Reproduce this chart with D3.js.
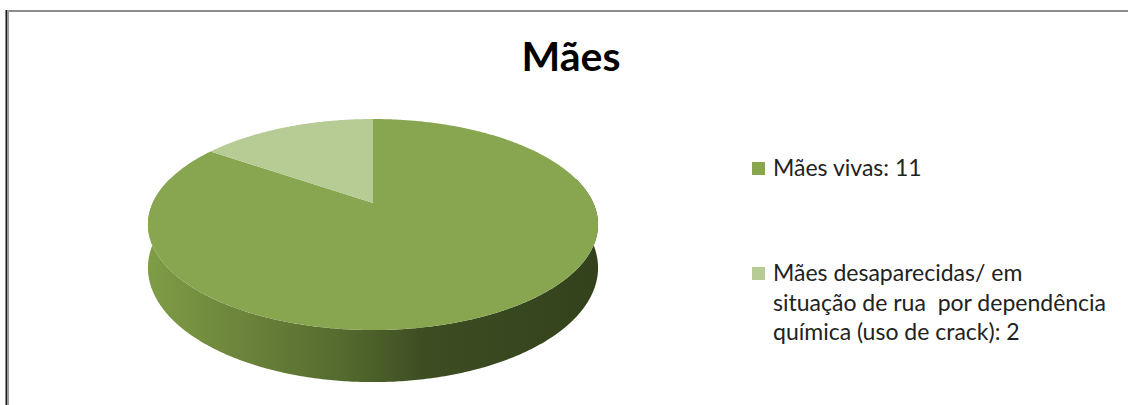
<!DOCTYPE html>
<html>
<head>
<meta charset="utf-8">
<script src="https://cdn.jsdelivr.net/npm/d3@7"></script>
<style>
  html, body { margin: 0; padding: 0; background: #fff; }
  svg { display: block; }
  text { font-family: Lato, "Open Sans", sans-serif; white-space: pre; }
</style>
</head>
<body>
<script>
// Chart content
const title = "Mães";
const categories = [
  ["Mães vivas"],
  ["Mães desaparecidas/ em", "situação de rua  por dependência", "química (uso de crack)"]
];
const values = [11, 2];
const colors = ["#88a54f", "#b7cc95"];

const W = 1128, H = 405;
const svg = d3.select("body").append("svg").attr("width", W).attr("height", H);

// Frame edges
svg.append("rect").attr("x", 7).attr("y", 10).attr("width", W - 7).attr("height", 2).attr("fill", "#8c8c8c");
svg.append("rect").attr("x", 7).attr("y", 10).attr("width", 2).attr("height", H - 10).attr("fill", "#9a9a9a");
svg.append("rect").attr("x", 5.5).attr("y", 10).attr("width", 1.5).attr("height", H - 10).attr("fill", "#1a1a1a");

// Title
svg.append("text")
  .attr("x", 571).attr("y", 71)
  .attr("text-anchor", "middle")
  .attr("font-weight", "bold")
  .attr("font-size", 41)
  .attr("fill", "#000")
  .text(title);

// 3D pie: perspective projection of a tilted disc
const cx = 373, cy = 203;          // screen position of the disc centre
const focal = 960, dist = 1;       // camera focal length and distance
const R = 0.2295;                  // disc radius (camera units)
const thick = 0.0432;              // extrusion height, drawn straight down on screen
const tilt = Math.asin(0.459);
const sT = Math.sin(tilt), cT = Math.cos(tilt);

function project(x, z, down) {
  const Y = z * sT;
  const d = z * cT;
  const k = focal / (dist + d);
  return [cx + x * k, cy - Y * k + down * k];
}
// angle a: 0 at the far edge, increasing clockwise as seen from above
const rim = (a, down) => project(R * Math.sin(a), R * Math.cos(a), down);

const pie = d3.pie().sort(null).startAngle(0).endAngle(2 * Math.PI);
const arcs = pie(values);
const line = d3.line();

function arcPoints(a0, a1, down) {
  const n = Math.max(2, Math.ceil(Math.abs(a1 - a0) / 0.01));
  return d3.range(n + 1).map(i => rim(a0 + (a1 - a0) * i / n, down));
}

// Side wall gradient
const defs = svg.append("defs");
const left = rim(1.5 * Math.PI, 0)[0], right = rim(0.5 * Math.PI, 0)[0];
const grad = defs.append("linearGradient").attr("id", "wall")
  .attr("gradientUnits", "userSpaceOnUse")
  .attr("x1", left).attr("x2", right).attr("y1", 0).attr("y2", 0);
[[0, "#7e9b46"], [0.2, "#6c843b"], [0.42, "#566c2f"], [0.62, "#3c4d22"], [1, "#33421c"]]
  .forEach(([o, c]) => grad.append("stop").attr("offset", o).attr("stop-color", c));

// Front wall: top rim to bottom rim across the near side
const wa0 = 0.42 * Math.PI, wa1 = 1.58 * Math.PI;
const wallPts = arcPoints(wa0, wa1, 0).concat(arcPoints(wa1, wa0, thick));
svg.append("path")
  .attr("d", line(wallPts) + "Z")
  .attr("fill", "url(#wall)");

// Top faces of the slices
svg.selectAll("path.slice")
  .data(arcs)
  .join("path")
  .attr("class", "slice")
  .attr("d", d => line([project(0, 0, 0)].concat(arcPoints(d.startAngle, d.endAngle, 0))) + "Z")
  .attr("fill", (d, i) => colors[i]);

// Legend
const lg = svg.append("g").attr("font-size", 23).attr("fill", "#222");
const legendRows = [176, 281];
const lineGap = 29.5;
categories.forEach((lines, i) => {
  const y0 = legendRows[i];
  lg.append("rect")
    .attr("x", 752).attr("y", y0 - 14).attr("width", 13).attr("height", 13)
    .attr("fill", colors[i]);
  const t = lg.append("text").attr("x", 773).attr("y", y0);
  lines.forEach((l, j) => {
    const txt = j === lines.length - 1 ? `${l}: ${values[i]}` : l;
    t.append("tspan").attr("x", 773).attr("y", y0 + j * lineGap).text(txt);
  });
});
</script>
</body>
</html>
